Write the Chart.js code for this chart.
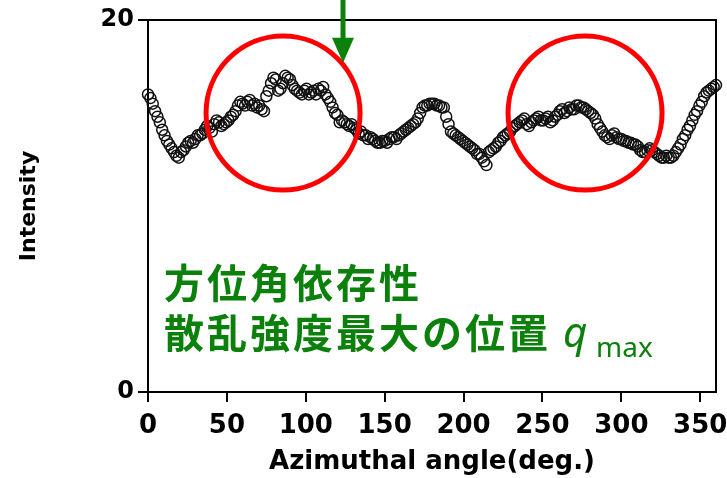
<!DOCTYPE html>
<html>
<head>
<meta charset="utf-8">
<script src="https://cdn.jsdelivr.net/npm/chart.js@4.4.0/dist/chart.umd.min.js"></script>
<style>
html,body{margin:0;padding:0;background:#fff;}
</style>
</head>
<body>
<canvas id="myChart" width="727" height="478"></canvas>
<script>
const angles = [
  0,3,6,9,12,15,18,21,24,27,
  30,33,36,39,42,45,48,51,54,57,
  60,63,66,69,72,75,78,81,84,87,
  90,93,96,99,102,105,108,111,114,117,
  120,123,126,129,132,135,138,141,144,147,
  150,153,156,159,162,165,168,171,174,177,
  180,183,186,189,192,195,198,201,204,207,
  210,213,216,219,222,225,228,231,234,237,
  240,243,246,249,252,255,258,261,264,267,
  270,273,276,279,282,285,288,291,294,297,
  300,303,306,309,312,315,318,321,324,327,
  330,333,336,339,342,345,348,351,354,357,
  360
];
const intensity = [
  16.0,15.5,14.8,14.1,13.5,13.1,12.7,12.9,13.2,13.5,
  13.6,13.8,14.1,14.2,14.4,14.5,14.4,14.6,14.9,15.4,
  15.5,15.6,15.4,15.3,15.2,15.9,16.6,16.8,16.3,17.0,
  16.8,16.3,16.1,16.2,16.0,16.2,16.3,16.4,15.8,15.3,
  14.9,14.6,14.4,14.4,14.1,14.0,13.8,13.7,13.5,13.4,
  13.5,13.6,13.7,13.8,14.0,14.2,14.4,14.7,15.3,15.4,
  15.5,15.4,15.3,14.8,14.0,13.8,13.6,13.4,13.2,13.0,
  12.8,12.4,12.9,13.1,13.4,13.7,13.9,14.2,14.4,14.6,
  14.4,14.5,14.7,14.6,14.7,14.5,14.8,15.1,15.0,15.3,
  15.2,15.4,15.3,15.1,14.9,14.4,14.0,13.7,13.8,13.7,
  13.6,13.5,13.4,13.3,13.0,12.9,13.1,12.9,12.7,12.6,
  12.6,12.7,13.1,13.6,14.1,14.6,15.1,15.6,16.1,16.3,
  16.5
];
// the in-between scan points
const anglesMid = [
  1.5,4.5,7.5,10.5,13.5,16.5,19.5,22.5,25.5,28.5,
  31.5,34.5,37.5,40.5,43.5,46.5,49.5,52.5,55.5,58.5,
  61.5,64.5,67.5,70.5,73.5,76.5,79.5,82.5,85.5,88.5,
  91.5,94.5,97.5,100.5,103.5,106.5,109.5,112.5,115.5,118.5,
  121.5,124.5,127.5,130.5,133.5,136.5,139.5,142.5,145.5,148.5,
  151.5,154.5,157.5,160.5,163.5,166.5,169.5,172.5,175.5,178.5,
  181.5,184.5,187.5,190.5,193.5,196.5,199.5,202.5,205.5,208.5,
  211.5,214.5,217.5,220.5,223.5,226.5,229.5,232.5,235.5,238.5,
  241.5,244.5,247.5,250.5,253.5,256.5,259.5,262.5,265.5,268.5,
  271.5,274.5,277.5,280.5,283.5,286.5,289.5,292.5,295.5,298.5,
  301.5,304.5,307.5,310.5,313.5,316.5,319.5,322.5,325.5,328.5,
  331.5,334.5,337.5,340.5,343.5,346.5,349.5,352.5,355.5,358.5
];
const intensityMid = [
  15.8,15.1,14.5,13.8,13.3,12.9,12.6,13.0,13.4,13.4,
  13.8,13.9,14.3,14.0,14.6,14.3,14.5,14.8,15.1,15.6,
  15.4,15.7,15.5,15.4,15.1,16.2,16.9,16.2,16.6,16.9,
  16.5,16.2,16.0,16.3,16.1,16.0,16.2,16.0,15.6,15.0,
  14.5,14.5,14.3,14.2,13.9,13.8,13.6,13.6,13.4,13.5,
  13.4,13.7,13.6,13.9,14.1,14.3,14.5,15.0,15.4,15.5,
  15.5,15.4,15.3,14.4,13.9,13.7,13.5,13.3,13.1,12.8,
  12.6,12.2,13.0,13.2,13.5,13.8,14.0,14.3,14.5,14.7,
  14.3,14.6,14.8,14.6,14.8,14.6,14.9,15.2,15.1,15.2,
  15.4,15.3,15.2,15.0,14.7,14.2,13.8,13.6,13.9,13.6,
  13.5,13.4,13.3,13.2,12.9,13.0,13.0,12.8,12.6,12.7,
  12.6,12.9,13.3,13.8,14.3,14.9,15.4,15.9,16.2,16.4
];
const xTicks = [0,50,100,150,200,250,300,350];
const yTicks = [0,20];
const noteLines = ["方位角依存性", "散乱強度最大の位置"];

const green = '#0b800b';

const points = angles.map((a, i) => ({x: a, y: intensity[i]}))
  .concat(anglesMid.map((a, i) => ({x: a, y: intensityMid[i]})))
  .sort((p, q) => p.x - q.x);

// box, red circles, arrow and the green note
const overlay = {
  id: 'overlay',
  afterDatasetsDraw(chart) {
    const {ctx, chartArea: a, scales: {x, y}} = chart;
    ctx.save();
    ctx.strokeStyle = '#000';
    ctx.lineWidth = 2;
    ctx.beginPath();
    ctx.moveTo(a.left, a.top);
    ctx.lineTo(a.right, a.top);
    ctx.lineTo(a.right, a.bottom);
    ctx.stroke();

    ctx.strokeStyle = '#ff0000';
    ctx.lineWidth = 5;
    [[85.6, 15.0], [277, 15.0]].forEach(([d, v]) => {
      ctx.beginPath();
      ctx.arc(x.getPixelForValue(d), y.getPixelForValue(v), 77, 0, Math.PI * 2);
      ctx.stroke();
    });

    const ax = x.getPixelForValue(123.6), tip = y.getPixelForValue(17.7);
    ctx.fillStyle = green;
    ctx.fillRect(ax - 2.5, 0, 5, tip - 22);
    ctx.beginPath();
    ctx.moveTo(ax - 11, tip - 25);
    ctx.lineTo(ax + 11, tip - 25);
    ctx.lineTo(ax, tip);
    ctx.closePath();
    ctx.fill();

    ctx.textBaseline = 'alphabetic';
    ctx.textAlign = 'left';
    ctx.font = 'bold 40px "Noto Sans CJK JP"';
    ctx.letterSpacing = '3px';
    ctx.fillText(noteLines[0], 164, 298);
    ctx.fillText(noteLines[1], 164, 348);
    ctx.letterSpacing = '0px';
    ctx.font = 'italic 42px "Noto Sans"';
    ctx.fillText('q', 563, 347);
    ctx.font = '28px "Noto Sans"';
    ctx.fillText('max', 596, 357);
    ctx.restore();
  }
};

const axisGrid = {drawOnChartArea: false, drawTicks: true, tickLength: 10, color: '#000', lineWidth: 2};

new Chart("myChart", {
  type: "scatter",
  data: {
    datasets: [{
      data: points,
      showLine: false,
      pointRadius: 5.5,
      pointBorderWidth: 1.5,
      pointBorderColor: '#111',
      pointBackgroundColor: 'rgba(0,0,0,0)',
      clip: false
    }]
  },
  options: {
    responsive: false,
    animation: false,
    devicePixelRatio: 1,
    layout: {padding: {left: 0, right: 11, top: 20, bottom: 0}},
    plugins: {legend: {display: false}, tooltip: {enabled: false}},
    scales: {
      x: {
        type: 'linear', position: 'bottom', min: 0, max: 360,
        afterBuildTicks: s => { s.ticks = xTicks.map(v => ({value: v})); },
        afterFit: s => { s.height = 86; s.paddingLeft = 0; s.paddingRight = 0; },
        grid: axisGrid,
        border: {color: '#000', width: 2},
        ticks: {color: '#000', padding: 9, maxRotation: 0, autoSkip: false,
          font: {family: 'DejaVu Sans', weight: 'bold', size: 26}},
        title: {display: true, text: 'Azimuthal angle(deg.)', color: '#000',
          padding: {top: 0, bottom: 0},
          font: {family: 'DejaVu Sans', weight: 'bold', size: 26}}
      },
      y: {
        type: 'linear', min: 0, max: 20,
        afterBuildTicks: s => { s.ticks = yTicks.map(v => ({value: v})); },
        afterFit: s => { s.width = 148; s.paddingTop = 0; s.paddingBottom = 0; },
        grid: axisGrid,
        border: {color: '#000', width: 2},
        ticks: {color: '#000', padding: 4,
          font: {family: 'DejaVu Sans', weight: 'bold', size: 24}},
        title: {display: true, text: 'Intensity', color: '#000',
          padding: {top: 16, bottom: 0},
          font: {family: 'DejaVu Sans', weight: 'bold', size: 22}}
      }
    }
  },
  plugins: [overlay]
});
</script>
</body>
</html>
